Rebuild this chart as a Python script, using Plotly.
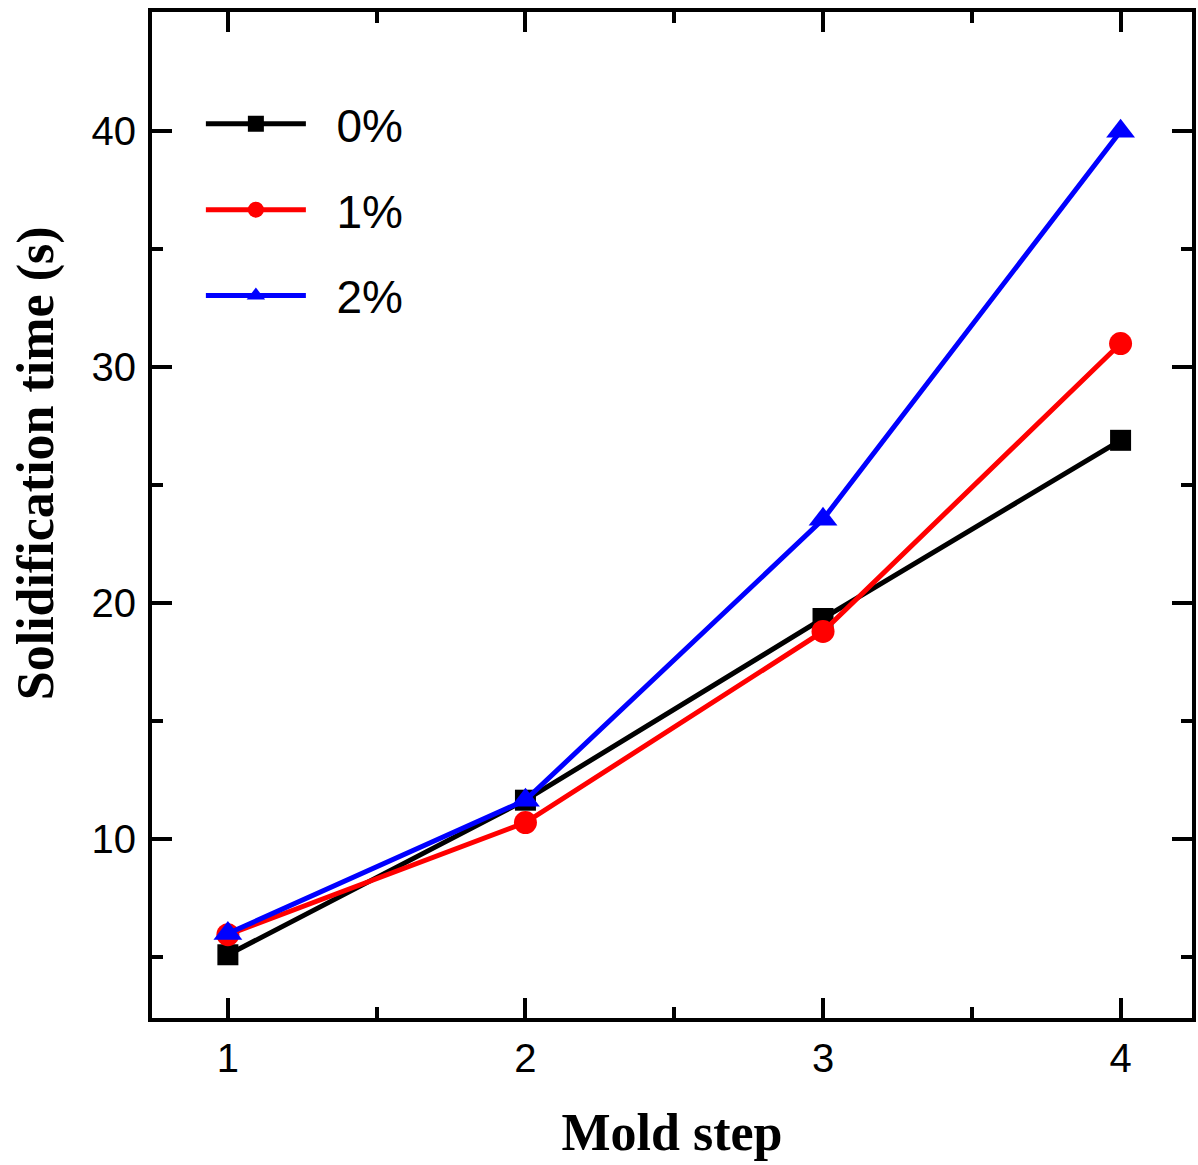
import plotly.graph_objects as go

steps = [1, 2, 3, 4]
series_names = ["0%", "1%", "2%"]
t0 = [5.1, 11.65, 19.35, 26.9]
t1 = [5.95, 10.7, 18.8, 31.0]
t2 = [6.0, 11.65, 23.55, 40.0]
colors = ["#000000", "#ff0000", "#0000ff"]
symbols = ["square", "circle", "triangle-up"]
msizes = [21, 23, 25]

fig = go.Figure()
for name, ys, c, s, ms in zip(series_names, [t0, t1, t2], colors, symbols, msizes):
    fig.add_trace(go.Scatter(
        x=steps, y=ys, name="\u00a0\u00a0" + name, legendgroup=name,
        mode="lines+markers",
        line=dict(color=c, width=5),
        marker=dict(color=c, symbol=s, size=ms),
    ))

axis_common = dict(
    showline=True, linecolor="black", linewidth=4, mirror="allticks",
    ticks="inside", ticklen=20, tickwidth=4, tickcolor="black",
    showgrid=False, zeroline=False,
    tickfont=dict(family="Liberation Sans, Arial", size=40, color="black"),
)

fig.update_xaxes(
    range=[0.745, 4.24], tickvals=steps, ticktext=["1", "2", "3", "4"],
    minor=dict(dtick=0.5, ticks="inside", ticklen=11, tickwidth=4, tickcolor="black", showgrid=False),
    title=dict(text="<b>Mold step</b>", font=dict(family="Liberation Serif, Times New Roman", size=52, color="black"), standoff=36),
    ticklabelstandoff=2,
    **axis_common,
)
fig.update_yaxes(
    range=[2.42, 45.05], tickvals=[10, 20, 30, 40],
    minor=dict(tickvals=[5, 15, 25, 35], ticks="inside", ticklen=11, tickwidth=4, tickcolor="black", showgrid=False),
    ticklabelstandoff=4,
    **axis_common,
)

fig.add_annotation(
    text="<b>Solidification time (s)</b>", textangle=-90,
    xref="paper", yref="paper", x=-0.112, y=0.551,
    xanchor="center", yanchor="middle", showarrow=False,
    font=dict(family="Liberation Serif, Times New Roman", size=52, color="black"),
)

fig.update_layout(
    width=1198, height=1165,
    margin=dict(l=152, r=2, t=12, b=147),
    plot_bgcolor="white", paper_bgcolor="white",
    showlegend=True,
    legend=dict(
        x=0.047, y=0.925, xanchor="left", yanchor="top",
        font=dict(family="Liberation Sans, Arial", size=46, color="black"),
        bgcolor="rgba(0,0,0,0)", tracegroupgap=23, itemwidth=100,
    ),
)

fig.write_html("out.html")
